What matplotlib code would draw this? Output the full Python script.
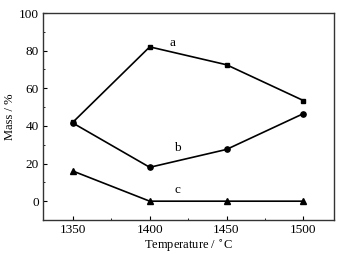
import matplotlib
matplotlib.use("Agg")
import matplotlib.pyplot as plt
from matplotlib.ticker import MultipleLocator

temps = [1350, 1400, 1450, 1500]
mass_a = [42, 82, 72.5, 53.5]
mass_b = [41.5, 18, 27.5, 46.5]
mass_c = [16, 0, 0, 0]

plt.rcParams['font.family'] = ['Liberation Serif', 'DejaVu Serif']
fig = plt.figure(figsize=(3.53, 2.54), dpi=100)
ax = fig.add_axes([43/353, 1-220/254, (334-43)/353, (220-13)/254])

ax.plot(temps, mass_a, '-s', color='black', lw=1.2, ms=3.5)
ax.plot(temps, mass_b, '-o', color='black', lw=1.2, ms=3.8)
ax.plot(temps, mass_c, '-^', color='black', lw=1.2, ms=3.8)

ax.text(1415, 84, 'a', fontsize=9.5, ha='center', va='center')
ax.text(1418, 28, 'b', fontsize=9.5, ha='center', va='center')
ax.text(1418, 6, 'c', fontsize=9.5, ha='center', va='center')

ax.set_xlim(1330.5, 1520)
ax.set_ylim(-10, 100)
ax.set_xticks(temps)
ax.set_yticks([0, 20, 40, 60, 80, 100])
ax.xaxis.set_minor_locator(MultipleLocator(25))
ax.yaxis.set_minor_locator(MultipleLocator(10))
ax.tick_params(which='both', direction='in', top=False, right=False, labelsize=9.5)
ax.tick_params(which='major', length=3, pad=3)
ax.tick_params(which='minor', length=1.5)
for s in ax.spines.values():
    s.set_linewidth(1.0)
    s.set_color('#333333')
ax.set_xlabel('Temperature / $^{\\circ}$C', fontsize=9, labelpad=1)
ax.set_ylabel('Mass / %', fontsize=9, labelpad=2)

fig.savefig('out.png', dpi=100)
